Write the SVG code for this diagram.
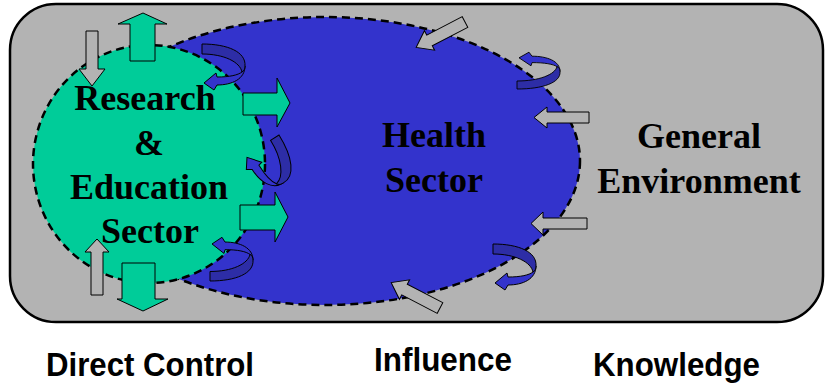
<svg xmlns="http://www.w3.org/2000/svg" xmlns:xlink="http://www.w3.org/1999/xlink" width="826" height="384" viewBox="0 0 826 384">
  <style>
    .serif { font-family: "Liberation Serif", "Times New Roman", serif; font-weight: bold; font-size: 36px; fill: #000; text-anchor: middle; }
    .sans { font-family: "Liberation Sans Narrow", "Liberation Sans", Arial, sans-serif; font-weight: bold; font-size: 34px; fill: #000; }
    .zone { stroke: #000; stroke-width: 2.5; stroke-dasharray: 8 5; }
    .gray { fill: #b3b3b3; stroke: #000; stroke-width: 1; }
    .green { fill: #00cc99; stroke: #000; stroke-width: 1; }
    .band { fill: #2d2da6; stroke: #000; stroke-width: 1; }
    .head { fill: #3333cc; stroke: #000; stroke-width: 1; }
  </style>
  <defs>
    <g id="curl">
      <path class="head" d="M15,33 L14,29 L2,39 L12,46 L15,41 C30,41 43,35 43,22 L40,28 C36,31 28,33 15,33 Z"/>
      <path class="band" d="M0,0 C26,0 44,8 43,22 C43,25 42,27 40,28 C38,18 22,10 0,10 Z"/>
    </g>
    <polygon id="diag" class="gray" points="0,-6 40,-6 40,-11 55,0 40,11 40,6 0,6"/>
  </defs>

  <g id="general-environment">
    <rect x="10" y="4" width="813" height="318" rx="46" ry="46" fill="#b3b3b3" stroke="#000" stroke-width="2.5"/>
    <text class="serif" x="699" y="148">General</text>
    <text class="serif" x="699" y="193">Environment</text>
  </g>

  <g id="health-sector">
    <ellipse class="zone" cx="325" cy="161" rx="255" ry="144" fill="#3333cc"/>
    <text class="serif" x="434" y="147">Health</text>
    <text class="serif" x="434" y="192">Sector</text>
  </g>

  <g id="research-education-sector">
    <ellipse class="zone" cx="149" cy="164" rx="116" ry="119" fill="#00cc99"/>
    <text class="serif" x="145" y="110">Research</text>
    <text class="serif" x="149" y="155">&amp;</text>
    <text class="serif" x="149" y="199">Education</text>
    <text class="serif" x="150" y="243">Sector</text>
  </g>

  <g id="connectors">
    <!-- gray knowledge arrows -->
    <polygon class="gray" points="86,31 98,31 98,69 105,69 92,86 79,69 86,69"/>
    <polygon class="gray" points="91,295 103,295 103,252 109,252 97,239 85,252 91,252"/>
    <use xlink:href="#diag" href="#diag" transform="translate(465,22) rotate(152.5)"/>
    <use xlink:href="#diag" href="#diag" transform="translate(440,308) rotate(-152.5)"/>
    <polygon class="gray" points="589,112 547,112 547,107 534,117.5 547,128 547,123 589,123"/>
    <polygon class="gray" points="587,218 543,218 543,212 531,223.5 543,235 543,229 587,229"/>
    <!-- green direct control arrows -->
    <polygon class="green" points="130,61 155,61 155,24 167,24 143,13 118,24 130,24"/>
    <polygon class="green" points="122,263 155,263 155,299 168,299 143,311 117,299 122,299"/>
    <polygon class="green" points="243,93 277,93 277,78 290,103 277,127 277,115 243,115"/>
    <polygon class="green" points="240,205 275,205 275,192 288,217 275,242 275,230 240,230"/>
    <!-- blue influence curls -->
    <use xlink:href="#curl" href="#curl" transform="translate(202,44)"/>
    <use xlink:href="#curl" href="#curl" transform="translate(279,135) rotate(58)"/>
    <use xlink:href="#curl" href="#curl" transform="translate(210,281) scale(1,-0.95)"/>
    <use xlink:href="#curl" href="#curl" transform="translate(517,89) scale(1,-0.8)"/>
    <use xlink:href="#curl" href="#curl" transform="translate(493,244)"/>
  </g>

  <g id="labels">
    <text class="sans" x="46" y="376" textLength="208" lengthAdjust="spacingAndGlyphs">Direct Control</text>
    <text class="sans" x="374" y="371" textLength="138" lengthAdjust="spacingAndGlyphs">Influence</text>
    <text class="sans" x="593" y="376" textLength="167" lengthAdjust="spacingAndGlyphs">Knowledge</text>
  </g>
</svg>
